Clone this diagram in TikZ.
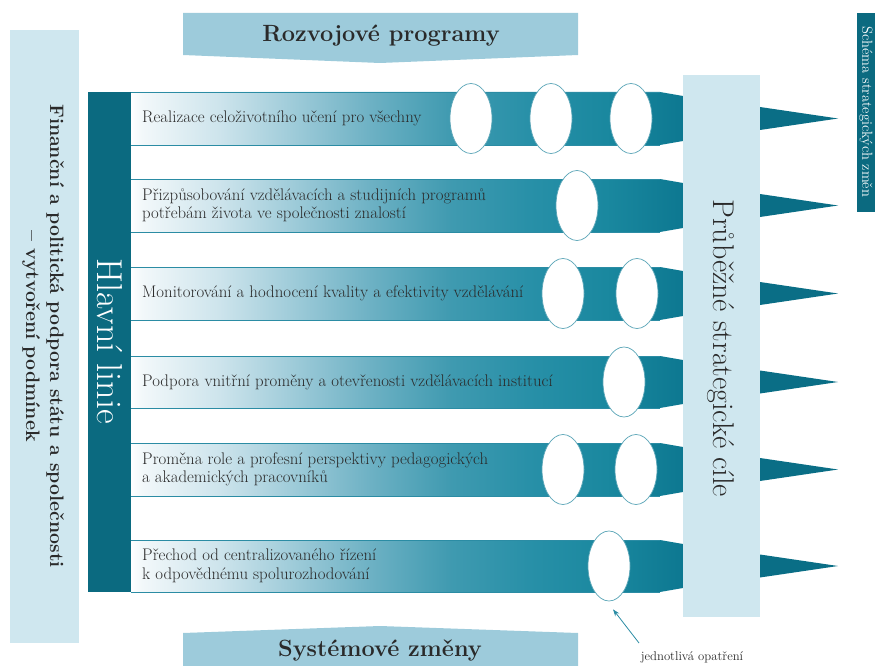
\documentclass[tikz,border=0pt]{standalone}
\usetikzlibrary{shapes.geometric,arrows.meta}
\definecolor{lightblue}{HTML}{CFE7EF}
\definecolor{bannerblue}{HTML}{9DCBDB}
\definecolor{darkteal}{HTML}{0B6A80}
\definecolor{spikecol}{HTML}{0A6E86}
\definecolor{rimcol}{HTML}{5AA5B7}
\definecolor{bandline}{HTML}{2B8CA4}
\definecolor{txtcol}{HTML}{2A2A2A}
\definecolor{bA}{HTML}{F2F8FA}
\definecolor{bB}{HTML}{CDE4EC}
\definecolor{bC}{HTML}{9CCAD8}
\definecolor{bD}{HTML}{6BB0C3}
\definecolor{bE}{HTML}{3F9AB0}
\definecolor{bF}{HTML}{2890A8}
\definecolor{bG}{HTML}{1A889F}
\definecolor{bH}{HTML}{0D7891}
\pgfdeclarehorizontalshading{bandshade}{100bp}{color(0bp)=(white); color(25bp)=(white); color(26bp)=(bA); color(33bp)=(bB); color(40bp)=(bC); color(47bp)=(bD); color(54bp)=(bE); color(61bp)=(bF); color(68bp)=(bG); color(75bp)=(bH); color(100bp)=(bH)}
\tikzset{
  rowtext/.style={anchor=west, align=left, inner sep=0pt, text=txtcol, font=\fontsize{16.8}{18.5}\selectfont},
  opat/.style={ellipse, draw=rimcol, line width=0.7pt, fill=white, minimum width=42pt, minimum height=70pt, inner sep=0pt},
  spikeshape/.style={fill=spikecol},
  bandedge/.style={draw=bandline, line width=0.8pt},
  bigrot/.style={rotate=-90, inner sep=0pt, align=center},
}
\newcommand{\myband}[2]{%
  \shade[shading=bandshade] (131,#1) -- (660,#1) -- (683,#1+4) -- (683,#2-4) -- (660,#2) -- (131,#2) -- cycle;
  \draw[bandedge] (131,#1) -- (660,#1);
  \draw[bandedge] (131,#2) -- (660,#2);
}
\newcommand{\myspike}[1]{%
  \fill[spikeshape] (760,#1-11.5) -- (838,#1) -- (760,#1+11.5) -- cycle;
}
\begin{document}
\begin{tikzpicture}[x=1pt,y=-1pt]
\useasboundingbox (0,0) rectangle (875,666);
% left support column
\fill[lightblue] (10,30) rectangle (79,643);
\node[bigrot, font=\fontsize{19.5}{24}\bfseries\selectfont, text=txtcol] (fin) at (43,336) {Finanční a politická podpora státu a společnosti\\– vytvoření podmínek};
% top banner
\fill[bannerblue] (183,13) -- (578,13) -- (578,55) -- (380,63) -- (183,55) -- cycle;
\node[font=\fontsize{23.5}{28}\bfseries\selectfont, text=txtcol] (rozv) at (381,36) {Rozvojové programy};
% bottom banner
\fill[bannerblue] (183,633) -- (380,626) -- (578,633) -- (578,670) -- (183,670) -- cycle;
\node[font=\fontsize{23.5}{28}\bfseries\selectfont, text=txtcol] (syst) at (380,650) {Systémové změny};
% main line bar
\fill[darkteal] (88,92) rectangle (131,592);
\node[bigrot, font=\fontsize{36}{40}\selectfont, text=white] (hl) at (110,341) {Hlavní linie};
% bands
\myband{92}{145}
\myband{179}{232}
\myband{267}{320}
\myband{356}{408}
\myband{443}{496}
\myband{540}{592}
% row texts
\node[rowtext] (t1) at (142,118.5) {Realizace celoživotního učení pro všechny};
\node[rowtext] (t2) at (142,205.5) {Přizpůsobování vzdělávacích a studijních programů\\potřebám života ve společnosti znalostí};
\node[rowtext] (t3) at (142,293.5) {Monitorování a hodnocení kvality a efektivity vzdělávání};
\node[rowtext] (t4) at (142,382) {Podpora vnitřní proměny a otevřenosti vzdělávacích institucí};
\node[rowtext] (t5) at (142,469.5) {Proměna role a profesní perspektivy pedagogických\\a akademických pracovníků};
\node[rowtext] (t6) at (142,566) {Přechod od centralizovaného řízení\\k odpovědnému spolurozhodování};
% measures (ellipses)
\node[opat] (e1a) at (471,118.5) {};
\node[opat] (e1b) at (551,118.5) {};
\node[opat] (e1c) at (631,118.5) {};
\node[opat] (e2a) at (577,205.5) {};
\node[opat] (e3a) at (563,293.5) {};
\node[opat] (e3b) at (637,293.5) {};
\node[opat] (e4a) at (624,382) {};
\node[opat] (e5a) at (563,469.5) {};
\node[opat] (e5b) at (636,469.5) {};
\node[opat] (e6a) at (609,566) {};
% right goals column
\fill[lightblue] (683,75) rectangle (760,617);
\node[bigrot, font=\fontsize{30}{34}\selectfont, text=txtcol] (goals) at (721,348) {Průběžné strategické cíle};
% spikes
\myspike{118.5}
\myspike{205.5}
\myspike{293.5}
\myspike{382}
\myspike{469.5}
\myspike{566}
% side label
\fill[darkteal] (857,13) rectangle (875,212);
\node[bigrot, font=\fontsize{14.5}{16}\selectfont, text=white] (schema) at (866,112) {Schéma strategických změn};
% annotation
\node[font=\fontsize{12.7}{14}\selectfont, text=txtcol, inner sep=0pt] (lbl) at (692,657) {jednotlivá opatření};
\coordinate (arrtail) at (639,643);
\draw[bandline, line width=0.8pt, -{Stealth[length=7pt,width=5pt]}] (arrtail) -- ([shift={(4,8)}]e6a.south);
\end{tikzpicture}
\end{document}
